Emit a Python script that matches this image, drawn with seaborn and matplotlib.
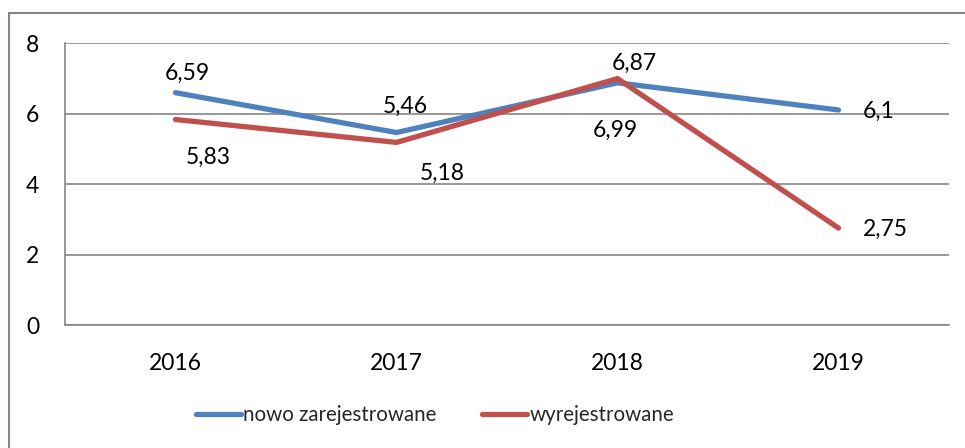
import matplotlib
matplotlib.use("Agg")
import matplotlib.pyplot as plt
import seaborn as sns
import pandas as pd
from matplotlib.patches import Rectangle

years = ["2016", "2017", "2018", "2019"]
nowo = [6.59, 5.46, 6.87, 6.1]
wyrej = [5.83, 5.18, 6.99, 2.75]
nowo_labels = ["6,59", "5,46", "6,87", "6,1"]
wyrej_labels = ["5,83", "5,18", "6,99", "2,75"]
series_names = ["nowo zarejestrowane", "wyrejestrowane"]
y_ticks = [0, 2, 4, 6, 8]

sns.set_theme(style="white")
plt.rcParams["font.family"] = ["Lato", "DejaVu Sans"]

W, H = 965, 448
fig = plt.figure(figsize=(W / 100, H / 100), dpi=100)
ax = fig.add_axes([65 / W, (H - 325) / H, (949 - 65) / W, (325 - 43) / H])

df = pd.DataFrame({
    "x": list(range(len(years))) * 2,
    "value": nowo + wyrej,
    "series": [series_names[0]] * len(years) + [series_names[1]] * len(years),
})
palette = {series_names[0]: "#4F81BD", series_names[1]: "#C0504D"}
sns.lineplot(data=df, x="x", y="value", hue="series", palette=palette,
             linewidth=3.8, ax=ax, legend=False, sort=False)
for line in ax.lines:
    line.set_solid_capstyle("round")
    line.set_solid_joinstyle("miter")

grey = "#868686"
ax.set_xlim(-0.5, len(years) - 0.5)
ax.set_ylim(0, 8)
ax.set_yticks(y_ticks)
ax.set_yticklabels([str(t) for t in y_ticks], fontsize=16.5, color="black")
ax.set_xticks(range(len(years)))
ax.set_xticklabels(years, fontsize=16.5, color="black")
ax.set_xticks([i - 0.5 for i in range(len(years) + 1)], minor=True)
ax.tick_params(axis="x", which="major", length=0, pad=20)
ax.tick_params(axis="x", which="minor", length=8, width=1, color=grey, direction="out")
ax.tick_params(axis="y", which="major", length=8, width=1, color=grey, direction="out", pad=10.5)
ax.grid(axis="y", color=grey, linewidth=1.2)
ax.set_axisbelow(True)
for s in ["top", "right"]:
    ax.spines[s].set_visible(False)
for s in ["left", "bottom"]:
    ax.spines[s].set_color(grey)
    ax.spines[s].set_linewidth(1.2)
ax.set_xlabel("")
ax.set_ylabel("")

nowo_off = [(11.5, 19), (9, 26), (17, 19), (40, -1.5)]
wyrej_off = [(33, -37.5), (46, -31), (-2, -52), (46.5, -1)]
for i in range(len(years)):
    ax.annotate(nowo_labels[i], (i, nowo[i]), xytext=(nowo_off[i][0] * 0.72, nowo_off[i][1] * 0.72),
                textcoords="offset points", ha="center", va="center", fontsize=16.5, color="black")
    ax.annotate(wyrej_labels[i], (i, wyrej[i]), xytext=(wyrej_off[i][0] * 0.72, wyrej_off[i][1] * 0.72),
                textcoords="offset points", ha="center", va="center", fontsize=16.5, color="black")

# legend
handles = [plt.Line2D([], [], color=palette[n], linewidth=3.8, solid_capstyle="round") for n in series_names]
fig.legend(handles, series_names, loc="center", bbox_to_anchor=(435 / W, (H - 415) / H),
           ncol=2, frameon=False, fontsize=14.8, handlelength=2.2, handletextpad=0.1,
           columnspacing=2.2)

# outer chart border
fig.add_artist(Rectangle((9 / W, -0.1), 1.2, (H - 13) / H + 0.1, transform=fig.transFigure,
                         fill=False, edgecolor=grey, linewidth=1.5))

fig.savefig("out.png", dpi=100)
